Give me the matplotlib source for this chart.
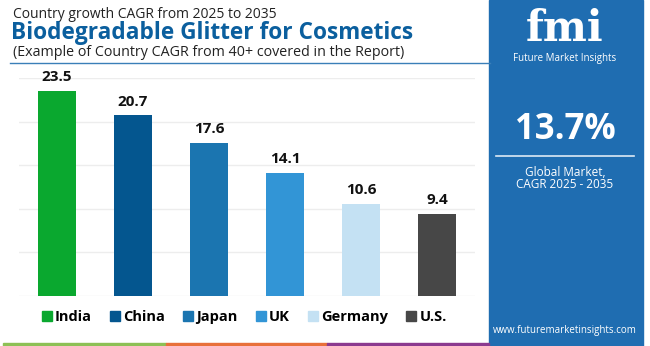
import matplotlib.pyplot as plt
from matplotlib.patches import Rectangle
from matplotlib.lines import Line2D

plt.rcParams['font.family'] = ['Open Sans', 'DejaVu Sans']

countries = ['India', 'China', 'Japan', 'UK', 'Germany', 'U.S.']
cagr = [23.5, 20.7, 17.6, 14.1, 10.6, 9.4]
colors = ['#0aa82f', '#04568f', '#1b75b0', '#3295d6', '#c4e1f3', '#474747']
yticks = [0, 5, 10, 15, 20, 25]

W, H = 650, 346
fig = plt.figure(figsize=(6.5, 3.46), dpi=100)
fig.patch.set_facecolor('white')

# chart
ax = fig.add_axes([19 / W, 1 - 296 / H, 456 / W, 218 / H])
x = range(len(countries))
ax.bar(x, cagr, width=0.5, color=colors, zorder=3)
for xi, v in zip(x, cagr):
    ax.text(xi, v + 0.8, f'{v}', ha='center', va='bottom', fontsize=11,
            fontweight='bold', color='#111111', clip_on=False)
ax.set_xlim(-0.5, 5.5)
ax.set_ylim(0, 25)
ax.set_yticks(yticks)
for t in yticks:
    ax.axhline(t, color='#ededed', lw=1, zorder=1)
ax.set_xticks([])
ax.tick_params(left=False, labelleft=False)
for s in ax.spines.values():
    s.set_visible(False)

# legend
handles = [Line2D([], [], marker='s', ls='', markersize=7.5, color=c) for c in colors]
fig.legend(handles, countries, loc='center', bbox_to_anchor=(243 / W, 1 - 317 / H),
           ncol=6, frameon=False, prop={'weight': 'bold', 'size': 10.5},
           handletextpad=0.05, columnspacing=1.1, handlelength=1.0)

# titles
fig.text(13 / W, 1 - 15 / H, 'Country growth CAGR from 2025 to 2035', fontsize=10,
         color='#222222', va='center')
fig.text(11 / W, 1 - 33 / H, 'Biodegradable Glitter for Cosmetics', fontsize=16.3,
         fontweight='bold', color='#0b5f9e', va='center')
fig.text(13 / W, 1 - 52 / H, '(Example of Country CAGR from 40+ covered in the Report)',
         fontsize=10.3, color='#222222', va='center')
fig.add_artist(Line2D([10 / W, 490 / W], [1 - 63 / H, 1 - 63 / H], color='#3a7fb8', lw=1))

# right panel
fig.add_artist(Rectangle((489 / W, 0), 154 / W, 1, color='#1f6db1', transform=fig.transFigure))
cx = 565 / W
fig.text(cx, 1 - 41 / H, 'fmi', fontsize=30, fontweight='bold', color='white',
         ha='center', va='baseline', family='DejaVu Serif')
fig.text(cx, 1 - 59 / H, 'Future Market Insights', fontsize=7, color='white',
         ha='center', va='center')
fig.text(cx, 1 - 130 / H, '13.7%', fontsize=25, fontweight='bold', color='white',
         ha='center', va='center')
fig.add_artist(Line2D([496 / W, 634 / W], [1 - 156 / H, 1 - 156 / H], color='#dce9f5', lw=1.2))
fig.text(cx, 1 - 172 / H, 'Global Market,', fontsize=8.5, color='white', ha='center', va='center')
fig.text(cx, 1 - 185 / H, 'CAGR 2025 - 2035', fontsize=8.5, color='white', ha='center', va='center')
fig.text(cx, 1 - 331 / H, 'www.futuremarketinsights.com', fontsize=7, color='white',
         ha='center', va='center')

# bottom stripes
for x0, x1, c in [(3, 166, '#8dc055'), (166, 327, '#e8703a'), (327, 489, '#8b3a8f')]:
    fig.add_artist(Rectangle((x0 / W, 0), (x1 - x0) / W, 3 / H, color=c,
                             transform=fig.transFigure))

fig.savefig('out.png', dpi=100)
